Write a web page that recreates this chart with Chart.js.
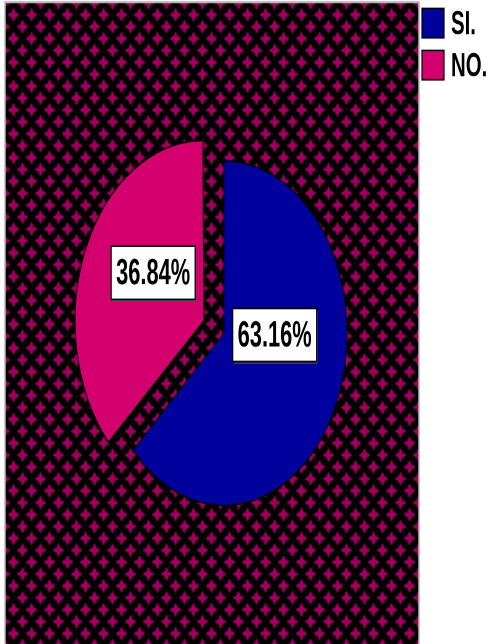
<!DOCTYPE html>
<html>
<head>
<meta charset="utf-8">
<script src="https://cdn.jsdelivr.net/npm/chart.js@4.4.1/dist/chart.umd.min.js"></script>
<style>
  body { margin: 0; background: #fff; }
  /* le graphique SPSS est etire verticalement */
  #myChart { display: block; width: 492px !important; height: 644px !important; }
</style>
</head>
<body>
<canvas id="myChart" width="492" height="460"></canvas>
<script>
// donnees du graphique
const categories = ["SI.", "NO."];
const valeurs = [63.16, 36.84];
const couleurs = ["#00009c", "#d4006e"];
const decalages = [0, 22];

// motif etoiles magenta sur fond noir
function creerMotif() {
    const tuile = document.createElement("canvas");
    tuile.width = 18;
    tuile.height = 17;
    const c = tuile.getContext("2d");
    c.fillStyle = "#000";
    c.fillRect(0, 0, 18, 17);
    c.fillStyle = "#a0005f";
    const etoile = (cx, cy) => {
        c.beginPath();
        c.moveTo(cx, cy - 5);
        c.lineTo(cx + 2, cy - 2);
        c.lineTo(cx + 5.8, cy);
        c.lineTo(cx + 2, cy + 2);
        c.lineTo(cx, cy + 5);
        c.lineTo(cx - 2, cy + 2);
        c.lineTo(cx - 5.8, cy);
        c.lineTo(cx - 2, cy - 2);
        c.closePath();
        c.fill();
        c.fillRect(cx - 1, cy - 4, 2, 8);
        c.fillRect(cx - 4.8, cy - 1, 9.6, 2);
    };
    // repetes pour les bords de la tuile
    [[4.5, 2], [4.5, 19], [22.5, 2], [22.5, 19], [13.5, 10.5], [-4.5, 10.5], [13.5, -6.5]].forEach(p => etoile(p[0], p[1]));
    return c.createPattern(tuile, "repeat");
}

// fond de la zone de trace
const fondPlugin = {
    id: "fond",
    beforeDraw(chart) {
        const ctx = chart.ctx;
        ctx.save();
        ctx.fillStyle = creerMotif();
        ctx.fillRect(5, 1.5, 414, 460);
        ctx.strokeStyle = "#b8b8b8";
        ctx.lineWidth = 1.5;
        ctx.strokeRect(5, 1.5, 414, 460);
        ctx.restore();
    }
};

// texte etroit (police condensee)
function texteEtroit(ctx, texte, x, y, echelle) {
    ctx.save();
    ctx.translate(x, y);
    ctx.scale(echelle, 1);
    ctx.fillText(texte, 0, 0);
    ctx.restore();
}

// etiquettes de pourcentage et legende
const etiquettesPlugin = {
    id: "etiquettes",
    afterDraw(chart) {
        const ctx = chart.ctx;
        const meta = chart.getDatasetMeta(0);
        ctx.save();
        ctx.font = "bold 26px 'Liberation Sans', Arial, sans-serif";
        ctx.textAlign = "center";
        ctx.textBaseline = "middle";
        meta.data.forEach((arc, i) => {
            const p = arc.getProps(["x", "y", "startAngle", "endAngle", "outerRadius"]);
            const milieu = (p.startAngle + p.endAngle) / 2;
            const cx = p.x + Math.cos(milieu) * decalages[i];
            const cy = p.y + Math.sin(milieu) * decalages[i];
            const x = cx + Math.cos(milieu) * p.outerRadius * 0.45;
            const y = cy + Math.sin(milieu) * p.outerRadius * 0.36 - 16.5;
            const texte = valeurs[i].toFixed(2) + "%";
            const w = 84;
            const h = 38;
            ctx.fillStyle = "#555";
            ctx.fillRect(x - w / 2 + 1, y - h / 2 + 1.5, w, h);
            ctx.fillStyle = "#fff";
            ctx.fillRect(x - w / 2, y - h / 2, w, h);
            ctx.strokeStyle = "#000";
            ctx.lineWidth = 1.2;
            ctx.strokeRect(x - w / 2, y - h / 2, w, h);
            ctx.fillStyle = "#000";
            texteEtroit(ctx, texte, x, y + 1, 0.84);
        });

        // legende
        ctx.font = "bold 24px 'Liberation Sans', Arial, sans-serif";
        ctx.textAlign = "left";
        categories.forEach((cat, i) => {
            const y0 = 6 + i * 30;
            ctx.fillStyle = couleurs[i];
            ctx.fillRect(422, y0, 22, 21);
            ctx.strokeStyle = "#000";
            ctx.lineWidth = 1.2;
            ctx.strokeRect(422, y0, 22, 21);
            ctx.fillStyle = "#000";
            texteEtroit(ctx, cat, 451, y0 + 12, 0.85);
        });
        ctx.restore();
    }
};

const ctx = document.getElementById("myChart").getContext("2d");
const myChart = new Chart(ctx, {
    type: "pie",
    data: {
        labels: categories,
        datasets: [{
            data: valeurs,
            backgroundColor: couleurs,
            borderColor: "#000",
            borderWidth: 1,
            // Chart.js divise l'offset par 4
            offset: decalages.map(d => d * 4),
            hoverOffset: 0
        }]
    },
    options: {
        responsive: false,
        animation: false,
        devicePixelRatio: 2,
        radius: 123,
        layout: { padding: { left: 0, right: 44, top: 16, bottom: 0 } },
        plugins: {
            legend: { display: false },
            tooltip: { enabled: false }
        }
    },
    plugins: [fondPlugin, etiquettesPlugin]
});
</script>
</body>
</html>
